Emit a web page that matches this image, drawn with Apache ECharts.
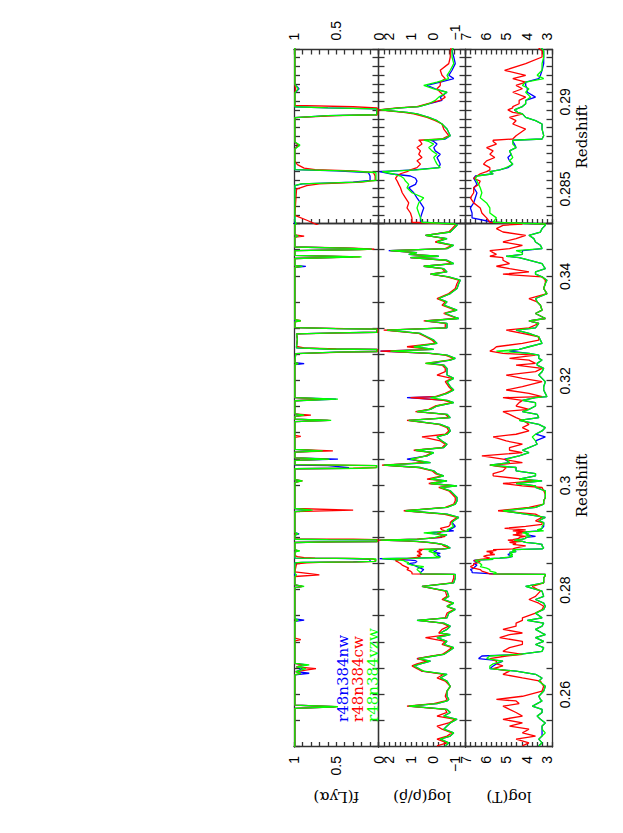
<!DOCTYPE html>
<html><head><meta charset="utf-8">
<script src="https://cdn.jsdelivr.net/npm/echarts@6.0.0/dist/echarts.min.js"></script>
<style>
html,body{margin:0;padding:0;width:623px;height:833px;overflow:hidden;background:#fff;}
#rot{position:absolute;left:0;top:0;width:833px;height:623px;transform-origin:0 0;transform:translate(0,833px) rotate(-90deg);}
#chart{width:833px;height:623px;}
</style></head><body>
<div id="rot"><div id="chart"></div></div>
<script>
const seriesNames = ['r48n384nw', 'r48n384cw', 'r48n384vzw'];
const seriesColors = ['#0000ff', '#ff0000', '#00ff00'];
const bigZLabels = [0.26, 0.28, 0.3, 0.32, 0.34];
const zoomZLabels = [0.285, 0.29];
const fLabels = [0, 0.5, 1];
const rhoLabels = [-1, 0, 1, 2];
const tLabels = [3, 4, 5, 6, 7];

// Lyman-alpha flux
const fZ = [0.2500,0.2574,0.2577,0.2580,0.2638,0.2641,0.2644,0.2650,0.2653,0.2657,
0.2660,0.2703,0.27055,0.2708,0.2740,0.27425,0.2745,0.2805,0.28072,0.2810,
0.2826,0.2829,0.2832,0.2835,0.2850,0.2852,0.2853,0.2854,0.2855,0.28575,
0.28595,0.28605,0.28612,0.2862,0.2864,0.2866,0.2873,0.28752,0.2877,0.2891,
0.28921,0.28926,0.2896,0.28966,0.28972,0.2898,0.2905,0.29075,0.2910,0.2950,
0.29529,0.2956,0.3006,0.30088,0.3011,0.3032,0.3033,0.3034,0.3038,0.3039,
0.3040,0.3048,0.30505,0.3053,0.3064,0.30662,0.3069,0.3092,0.3094,0.3096,
0.3122,0.31246,0.3127,0.3132,0.31345,0.3137,0.3162,0.3165,0.3168,0.3231,
0.3233,0.3235,0.3252,0.3255,0.3256,0.3260,0.3261,0.3263,0.3266,0.3280,
0.3290,0.3292,0.3293,0.3299,0.3300,0.3302,0.3313,0.3315,0.3317,0.3417,
0.3419,0.3421,0.3434,0.3437,0.3440,0.3449,0.3451,0.3452,0.3454,0.3456,
0.3475,0.3477,0.3479,0.3500];
const fBlue = [0.99,0.99,0.52,0.99,0.99,0.82,0.97,0.90,0.97,0.85,
0.99,0.99,0.99,0.99,0.99,0.88,0.99,0.99,0.90,0.99,
0.99,0.99,0.99,0.99,0.99,0.99,0.90,0.30,0.10,0.10,
0.12,0.50,0.99,0.99,0.99,0.99,0.99,0.95,0.99,0.99,
0.60,0.02,0.02,0.60,0.99,0.99,0.99,0.94,0.99,0.99,
0.80,0.99,0.99,0.92,0.99,0.99,0.40,0.35,0.60,0.99,
0.99,0.99,0.48,0.99,0.99,0.70,0.99,0.99,0.99,0.99,
0.99,0.60,0.99,0.99,0.90,0.99,0.99,0.50,0.99,0.99,
0.88,0.99,0.98,0.50,0.02,0.02,0.60,0.97,0.97,0.96,
0.97,0.50,0.02,0.02,0.50,0.99,0.99,0.99,0.99,0.99,
0.86,0.99,0.99,0.30,0.99,0.99,0.30,0.08,0.40,0.99,
0.99,0.95,0.99,0.99];
const fRed = [0.99,0.99,0.50,0.99,0.99,0.92,0.98,0.74,0.97,0.90,
0.99,0.99,0.92,0.99,0.99,0.97,0.99,0.99,0.90,0.99,
0.99,0.70,0.84,0.99,0.97,0.85,0.70,0.20,0.04,0.04,
0.06,0.30,0.75,0.88,0.96,0.99,0.99,0.95,0.99,0.99,
0.50,0.01,0.01,0.02,0.30,0.99,0.99,0.98,0.99,0.99,
0.30,0.99,0.99,0.90,0.99,0.99,0.30,0.03,0.02,0.50,
0.99,0.99,0.60,0.99,0.99,0.54,0.99,0.99,0.92,0.99,
0.99,0.58,0.99,0.99,0.80,0.99,0.99,0.62,0.99,0.99,
0.95,0.99,0.98,0.40,0.01,0.01,0.50,0.88,0.97,0.96,
0.97,0.40,0.01,0.01,0.40,0.99,0.99,0.92,0.99,0.99,
0.92,0.99,0.99,0.22,0.99,0.99,0.20,0.05,0.30,0.99,
0.99,0.88,0.99,0.99];
const fGreen = [0.99,0.99,0.48,0.99,0.99,0.92,0.98,0.86,0.97,0.82,
0.99,0.99,0.99,0.99,0.99,0.95,0.99,0.99,0.88,0.99,
0.99,0.97,0.99,0.99,0.99,0.99,0.92,0.25,0.03,0.03,
0.03,0.40,0.99,0.99,0.99,0.99,0.99,0.93,0.99,0.99,
0.60,0.02,0.02,0.60,0.99,0.99,0.99,0.95,0.99,0.99,
0.78,0.99,0.99,0.90,0.99,0.99,0.20,0.02,0.02,0.40,
0.99,0.99,0.58,0.99,0.99,0.66,0.99,0.99,0.99,0.99,
0.99,0.56,0.99,0.99,0.88,0.99,0.99,0.48,0.99,0.99,
0.95,0.99,0.98,0.50,0.02,0.02,0.60,0.97,0.97,0.96,
0.97,0.50,0.02,0.02,0.50,0.99,0.99,0.92,0.99,0.99,
0.90,0.99,0.99,0.20,0.99,0.99,0.20,0.08,0.40,0.99,
0.99,0.95,0.99,0.99];

// gas density and temperature along the sightline
const gasZ = [0.2502,0.2508,0.2515,0.2521,0.2527,0.2534,0.2540,0.2546,0.2553,0.2559,
0.2566,0.2572,0.2578,0.2583,0.2588,0.2591,0.2597,0.2607,0.2616,0.2626,
0.2632,0.2639,0.2645,0.2650,0.2655,0.2659,0.2664,0.2669,0.2674,0.2677,
0.2683,0.2690,0.2696,0.2702,0.2709,0.2715,0.2718,0.2725,0.2731,0.2737,
0.2742,0.2747,0.2756,0.2763,0.2769,0.2775,0.2782,0.2788,0.2798,0.2807,
0.2814,0.2823,0.2828,
0.2830,0.2831,0.28335,0.28363,0.28392,0.28421,0.2845,0.28479,0.28508,0.28527,
0.28546,0.28562,0.28575,0.28588,0.286,0.2861,0.28623,0.28643,0.28662,0.28681,
0.287,0.28719,0.28738,0.28758,0.28773,0.2878,0.28787,0.28806,0.28844,0.28873,
0.28892,0.28911,0.28931,0.2894,0.28954,0.28966,0.28973,0.28989,0.29008,0.29027,
0.29055,0.29075,0.29094,0.29113,0.29133,0.29152,0.29181,0.29219,0.29257,0.29292,
0.29326,0.29389,0.29453,0.29517,0.2958,0.29644,0.29707,0.29771,0.29835,0.29898,
0.29962,0.29994,0.30038,0.30089,0.30121,0.30185,0.30229,0.3028,0.30344,0.30388,
0.30439,0.30503,0.30566,0.3063,0.30674,0.30725,0.30789,0.30852,0.30929,0.3098,
0.31043,0.31107,0.3117,0.31247,0.31298,0.31361,0.31412,0.31457,0.3152,0.31584,
0.31628,0.31679,
0.31698,0.31762,0.31826,0.31889,0.31985,0.32048,0.32112,0.32176,0.32239,0.32303,
0.32335,0.32398,0.3243,0.32494,0.32525,0.3257,0.32602,0.32653,0.32716,0.3278,
0.32844,0.32907,0.32971,0.33015,0.33098,0.33149,0.33193,0.33289,0.33352,0.33448,
0.33511,0.33575,0.3367,0.33766,0.33861,0.33925,0.33989,0.3404,0.34084,0.34147,
0.34192,0.34243,0.34307,0.34357,0.34383,0.34421,0.34453,0.34491,0.34529,0.34593,
0.34656,0.3472,0.34784,0.34847,0.34911,0.34975,0.35];

const rhoBlue = [-0.57,-0.73,-0.34,-0.80,-0.96,-0.50,-0.65,-0.80,-1.11,-0.50,
-0.80,-0.65,1.11,-0.19,-0.65,-0.73,-0.65,-0.65,-0.80,-0.65,
-0.34,-0.65,0.50,0.65,0.88,0.57,0.11,0.73,-0.04,-0.50,
-0.73,-0.96,-0.50,-0.65,-0.19,-0.80,-0.34,-0.65,-0.80,-0.50,
0.73,-0.65,-0.73,-1.03,-0.65,-0.96,-0.50,-0.73,-0.65,0.50,
-0.96,-1.03,-1.03,
-1.03,0.57,0.57,0.50,0.42,0.57,0.73,0.88,1.11,0.80,
0.73,0.80,1.03,1.95,2.45,0.88,-0.27,-0.34,-0.27,-0.19,
-0.34,-0.11,-0.04,-0.19,-0.04,0.11,-0.57,-0.80,-0.65,-0.42,
-0.19,0.19,0.73,1.19,2.45,1.49,0.65,0.19,-0.42,-0.34,
-0.65,-0.11,0.27,-0.34,-0.96,-0.73,-0.88,-1.03,-0.96,-0.88,
-0.96,-1.19,-0.65,1.26,-0.65,-1.03,-1.11,-1.11,-0.96,-0.80,
-0.34,-1.11,0.11,-0.65,0.11,-0.50,-0.19,-0.04,0.57,2.26,
0.11,1.19,0.27,-0.04,0.80,-0.50,-0.65,-0.42,-0.19,-0.65,
-0.80,-0.73,-0.34,1.11,-0.80,-0.65,0.73,0.11,-0.19,-0.96,
-0.65,1.19,
-0.19,-0.65,-0.96,-0.80,-0.65,-0.96,-0.65,-0.65,-0.65,-0.50,
0.11,-0.80,-1.03,-0.65,0.11,2.41,-0.04,0.88,-0.19,-0.04,
0.27,0.57,2.11,-0.65,-0.65,0.34,-1.19,-0.57,-1.11,-0.50,
-0.65,-0.27,-0.80,-1.11,-1.19,-1.26,-0.73,0.11,-0.65,-0.50,
0.42,-0.96,-0.65,1.03,-0.27,1.11,0.73,2.03,-0.65,-0.96,
-0.19,-0.65,0.34,-0.80,-0.96,-1.11,-1.11];
const rhoRed = [-0.19,-0.65,-0.19,-0.65,-0.88,-0.42,-0.19,-0.73,-1.03,-0.19,
-0.65,-0.57,1.19,-0.04,-0.57,-0.65,-0.57,-0.65,-0.80,-0.57,
-0.19,-0.50,0.50,0.73,0.96,0.73,0.27,0.73,0.04,-0.42,
-0.65,-0.88,-0.42,-0.57,0.34,-0.73,-0.27,-0.42,-0.73,-0.42,
0.65,-0.57,-0.65,-0.96,-0.65,-0.88,-0.42,-0.65,-0.57,0.50,
-0.88,-0.96,-0.96,
-0.96,0.96,0.96,1.03,1.19,1.11,1.26,1.41,1.49,1.57,
1.64,1.72,1.64,1.49,1.19,1.03,0.73,0.57,0.73,0.50,
0.65,0.57,0.73,0.50,0.57,0.65,-0.42,-0.73,-0.50,-0.42,
-0.11,0.27,0.88,1.34,2.50,1.64,0.73,0.27,-0.34,-0.57,
-0.34,-0.19,-0.34,-0.34,-0.57,-0.42,-0.34,-0.73,-0.80,-0.80,
-0.88,-1.11,-0.50,1.34,-0.57,-0.96,-1.03,-1.03,-0.88,-0.73,
-0.27,-1.03,0.19,-0.57,0.27,-0.42,-0.11,0.04,0.65,2.34,
0.42,0.96,0.34,0.04,0.88,-0.42,-0.57,-0.34,0.50,-0.57,
-0.73,-0.65,-0.27,1.19,-0.73,-0.57,0.80,0.19,-0.11,-0.88,
-0.50,1.03,
-0.11,-0.57,-0.88,-0.73,-0.57,-0.88,-0.19,-0.57,-0.57,-0.42,
0.34,-0.73,-0.96,-0.57,0.19,2.41,0.04,1.19,-0.11,0.04,
0.34,0.65,2.26,-0.57,-0.57,0.42,-1.11,-0.50,-1.03,-0.42,
-0.57,-0.19,-0.73,-1.03,-1.11,-1.19,-0.65,0.11,-0.57,-0.42,
0.42,-0.88,-0.57,1.03,-0.19,1.03,0.80,1.95,-0.57,-0.88,
-0.11,-0.57,0.34,-0.73,-0.88,-1.03,-1.03];
const rhoGreen = [-0.57,-0.73,-0.34,-0.80,-0.96,-0.50,-0.65,-0.80,-1.11,-0.50,
-0.80,-0.65,1.11,-0.19,-0.65,-0.73,-0.65,-0.65,-0.80,-0.65,
-0.34,-0.65,0.42,0.65,0.88,0.57,0.11,0.65,-0.04,-0.50,
-0.73,-0.96,-0.50,-0.65,-0.19,-0.80,-0.34,-0.65,-0.80,-0.50,
0.73,-0.65,-0.73,-1.03,-0.65,-0.96,-0.50,-0.73,-0.65,0.50,
-0.96,-1.03,-1.03,
-1.03,0.50,0.57,0.65,0.73,0.65,0.42,0.96,1.19,1.11,
1.26,1.34,1.49,1.87,2.33,0.73,-0.34,-0.19,-0.11,-0.04,
-0.19,0.04,0.19,-0.04,0.19,0.42,-0.50,-0.80,-0.65,-0.42,
-0.19,0.19,0.73,1.19,2.41,1.49,0.65,0.19,-0.11,-0.27,
-0.65,-0.04,0.42,-0.19,-0.73,-0.65,-0.80,-0.96,-0.88,-0.88,
-0.96,-1.19,-0.65,1.26,-0.65,-1.03,-1.11,-1.11,-0.96,-0.80,
-0.34,-1.11,0.11,-0.65,0.11,-0.50,-0.19,-0.04,0.57,2.26,
0.11,1.03,0.27,-0.04,0.80,-0.50,-0.65,-0.42,-0.19,-0.65,
-0.80,-0.73,-0.34,1.11,-0.80,-0.65,0.73,0.11,-0.19,-0.96,
-0.65,0.11,
-0.19,-0.65,-0.96,-0.80,-0.65,-0.96,-0.65,-0.65,-0.65,-0.50,
0.34,-0.80,-1.03,-0.65,0.11,1.95,-0.04,0.88,-0.19,-0.04,
0.27,0.57,2.11,-0.65,-0.65,0.34,-1.19,-0.57,-1.11,-0.50,
-0.65,-0.27,-0.80,-1.11,-1.19,-1.26,-0.73,0.11,-0.65,-0.50,
0.42,-0.96,-0.65,1.03,-0.27,1.11,0.73,1.95,-0.65,-0.96,
-0.19,-0.65,0.34,-0.80,-0.96,-1.11,-1.11];

const tBlue = [3.42,3.26,3.42,3.26,3.26,3.26,3.26,3.10,3.34,3.50,
3.26,3.26,3.74,3.50,3.26,3.34,3.42,3.18,3.10,3.42,
3.26,3.58,4.53,5.81,5.65,5.49,5.17,6.36,6.20,4.38,
3.26,3.18,3.58,3.18,3.58,3.10,3.26,3.58,3.26,3.18,
3.98,3.26,3.58,3.18,3.10,3.18,3.58,3.18,3.26,4.06,
3.18,3.18,3.10,
3.10,5.65,6.68,6.68,6.76,6.60,6.52,6.44,6.60,6.44,
6.52,6.60,6.52,5.65,5.81,5.33,4.93,4.69,4.85,4.93,
4.77,4.85,4.53,4.61,4.69,4.69,3.26,3.18,3.26,3.26,
3.58,4.06,4.22,4.45,4.61,4.38,4.22,4.06,4.06,3.58,
3.98,3.98,4.06,4.06,3.42,3.34,3.26,3.18,3.18,3.18,
3.42,3.10,4.06,5.17,3.58,3.18,3.18,3.10,3.10,3.10,
3.58,3.58,4.53,3.26,4.38,3.58,3.58,4.53,4.53,5.81,
4.85,5.09,4.38,3.90,4.22,3.90,3.50,3.58,3.10,3.58,
3.26,3.10,3.42,4.38,3.42,3.50,4.22,3.90,3.58,3.58,
4.22,3.58,
3.02,3.10,3.18,3.18,3.10,3.26,3.42,3.26,3.18,3.50,
3.50,3.26,3.42,3.42,3.90,4.85,4.38,3.90,3.26,3.34,
3.42,3.90,4.53,3.58,3.42,3.90,3.10,3.58,3.26,3.34,
3.50,3.58,3.02,3.18,3.10,3.02,3.26,3.58,3.58,3.10,
3.18,3.26,3.90,4.38,5.01,4.22,4.22,4.22,3.26,3.34,
3.58,3.66,3.90,3.34,3.26,3.10,3.10];
const tRed = [4.22,3.90,4.53,3.58,4.22,3.90,4.85,4.22,5.17,4.22,
4.53,4.85,5.17,4.38,4.53,5.49,4.22,3.26,3.18,3.34,
4.22,5.17,4.85,5.65,5.17,5.49,5.49,5.81,5.01,4.22,
5.17,4.85,4.22,4.22,5.33,4.85,4.22,5.17,4.53,4.53,
4.22,4.22,3.58,3.26,3.18,3.42,3.90,3.58,3.34,3.74,
3.18,3.18,3.10,
3.10,5.81,5.97,6.20,6.28,6.60,6.76,6.60,6.60,6.36,
6.28,6.60,6.44,6.28,5.97,5.81,5.81,6.12,5.97,5.57,
5.81,5.65,5.97,5.49,5.65,5.65,4.69,4.53,4.06,4.69,
4.53,4.85,4.22,4.69,4.93,4.69,4.69,4.38,4.38,4.06,
4.69,4.22,4.53,4.06,4.69,4.06,5.09,4.06,3.26,3.26,
3.58,3.26,3.58,5.41,3.90,3.18,3.18,3.10,3.10,3.18,
3.26,4.22,5.17,3.58,4.22,5.65,5.65,5.17,5.01,5.81,
4.22,5.17,6.20,4.22,4.85,4.85,4.22,5.01,5.65,4.53,
3.90,4.22,3.90,4.22,4.53,4.85,5.17,3.90,4.53,4.38,
4.22,5.17,
3.26,3.90,5.01,4.22,3.26,4.22,5.01,3.58,3.26,4.53,
3.58,3.90,4.85,3.58,5.17,5.81,5.65,5.49,4.22,3.42,
3.42,4.22,5.01,3.90,3.42,3.90,3.10,3.58,3.26,3.34,
3.50,3.90,3.02,3.18,3.10,3.10,3.26,5.17,3.90,4.85,
5.49,4.85,5.17,5.17,5.81,5.49,5.65,5.81,4.85,4.22,
5.17,4.53,4.06,5.17,5.49,5.17,4.22];
const tGreen = [3.42,3.26,3.42,3.26,3.10,3.26,3.26,3.10,3.34,3.50,
3.26,3.26,3.74,3.50,3.26,3.34,3.42,3.18,3.10,3.42,
3.26,3.58,4.53,5.81,5.81,5.65,5.17,5.97,5.81,4.38,
3.26,3.18,3.58,3.18,3.58,3.10,3.26,3.58,3.26,3.18,
3.98,3.26,3.58,3.18,3.10,3.18,3.58,3.18,3.26,4.06,
3.18,3.18,3.10,
3.10,5.65,5.49,5.81,5.81,5.97,6.28,6.20,6.28,6.36,
6.44,6.52,6.44,5.65,5.81,5.33,5.01,4.69,4.85,4.69,
4.77,4.85,4.53,4.69,4.69,4.69,3.26,3.18,3.26,3.26,
3.58,4.06,4.22,4.45,4.61,4.38,4.22,4.06,4.06,3.82,
4.06,3.90,4.22,4.06,3.18,3.50,3.26,3.26,3.18,3.18,
3.42,3.10,4.06,5.17,3.58,3.18,3.18,3.10,3.10,3.10,
3.58,3.58,4.53,3.26,4.38,3.58,3.58,4.53,4.53,5.81,
4.85,5.01,4.38,3.90,4.22,3.90,3.50,3.58,3.74,3.58,
3.26,3.10,3.42,4.38,3.42,3.50,4.22,3.90,3.58,3.58,
4.22,3.58,
3.02,3.10,3.18,3.18,3.10,3.26,3.42,3.26,3.18,3.50,
3.50,3.26,3.42,3.42,3.90,5.49,4.38,3.90,3.26,3.34,
3.42,3.90,4.53,3.58,3.42,3.90,3.10,3.58,3.26,3.34,
3.50,3.58,3.02,3.18,3.10,3.02,3.26,3.58,3.58,3.10,
3.18,3.26,3.90,4.38,5.01,4.22,4.22,4.53,3.26,3.34,
3.58,3.66,3.90,3.34,3.26,3.10,3.10];

function steps(a, b, step) {
  const out = []; const n = Math.round((b - a) / step);
  for (let i = 0; i <= n; i++) out.push(+(a + i * step).toFixed(6));
  return out;
}
function fmtNum(v) { return String(+(+v).toFixed(4)).replace('-', '\u2212'); }

const frameColor = '#333';
const tickFont = 'Liberation Sans';
const titleFont = 'DejaVu Serif';

const rows = [
  { top: 294, height: 84.5, min: 0, max: 1, labels: fLabels, ticks: steps(0, 1, 0.1), name: 'f(Ly\u03b1)', z: fZ, vals: [fBlue, fRed, fGreen] },
  { top: 378.5, height: 87, min: -1.5, max: 2.5, labels: rhoLabels, ticks: steps(-1.5, 2.5, 0.25), name: 'log(\u03c1/\u03c1\u0304)', z: gasZ, vals: [rhoBlue, rhoRed, rhoGreen] },
  { top: 465.5, height: 87, min: 2.75, max: 7, labels: tLabels, ticks: steps(2.75, 7, 0.25), name: 'log(T)', z: gasZ, vals: [tBlue, tRed, tGreen] }
];
const panels = [
  { left: 86, width: 523, min: 0.25, max: 0.35, labels: bigZLabels, ticks: steps(0.25, 0.35, 0.005) },
  { left: 609, width: 174.5, min: 0.283, max: 0.293, labels: zoomZLabels, ticks: steps(0.283, 0.293, 0.0005) }
];

const grid = [], xAxis = [], yAxis = [], series = [];
const lineStyle = { color: frameColor, width: 1.3 };
panels.forEach((p, pi) => {
  rows.forEach((r, ri) => {
    const g = grid.length;
    grid.push({ left: p.left, top: r.top, width: p.width, height: r.height });
    const isBottom = ri === 2;
    xAxis.push({
      type: 'value', gridIndex: g, min: p.min, max: p.max, position: 'bottom',
      axisLine: { show: true, onZero: false, lineStyle },
      axisTick: { show: true, inside: true, length: 6, customValues: p.ticks, lineStyle },
      axisLabel: { show: isBottom, customValues: p.labels, formatter: fmtNum, margin: 5, fontSize: 14, color: '#000', fontFamily: tickFont },
      splitLine: { show: false },
      name: isBottom ? 'Redshift' : '', nameLocation: 'middle', nameGap: 22,
      nameTextStyle: { fontSize: 15, color: '#000', fontFamily: titleFont }
    });
    xAxis.push({
      type: 'value', gridIndex: g, min: p.min, max: p.max, position: 'top',
      axisLine: { show: true, onZero: false, lineStyle },
      axisTick: { show: true, inside: true, length: 6, customValues: p.ticks, lineStyle },
      axisLabel: { show: false }, splitLine: { show: false }
    });
    yAxis.push({
      type: 'value', gridIndex: g, min: r.min, max: r.max, position: 'left',
      axisLine: { show: true, onZero: false, lineStyle },
      axisTick: { show: true, inside: true, length: 5, customValues: r.ticks, lineStyle },
      axisLabel: { show: pi === 0, customValues: r.labels, formatter: fmtNum, margin: 9, fontSize: 14, color: '#000', fontFamily: tickFont },
      splitLine: { show: false },
      name: pi === 0 ? r.name : '', nameLocation: 'middle', nameRotate: 90, nameGap: 42,
      nameTextStyle: { fontSize: 15, color: '#000', fontFamily: titleFont }
    });
    yAxis.push({
      type: 'value', gridIndex: g, min: r.min, max: r.max, position: 'right',
      axisLine: { show: true, onZero: false, lineStyle },
      axisTick: { show: pi === 1, inside: true, length: 5, customValues: r.ticks, lineStyle },
      axisLabel: { show: pi === 1, customValues: r.labels, formatter: fmtNum, margin: 9, fontSize: 14, color: '#000', fontFamily: tickFont },
      splitLine: { show: false }
    });
    r.vals.forEach((vals, si) => {
      series.push({
        type: 'line', name: seriesNames[si], xAxisIndex: 2 * g, yAxisIndex: 2 * g,
        data: r.z.map((z, i) => [z, vals[i]]),
        showSymbol: false, symbol: 'none', clip: true, z: 2 + si,
        lineStyle: { width: 1.3, color: seriesColors[si] },
        itemStyle: { color: seriesColors[si] }
      });
    });
  });
});

const chart = echarts.init(document.getElementById('chart'), null, { renderer: 'svg', width: 833, height: 623 });
chart.setOption({
  animation: false,
  backgroundColor: '#fff',
  grid, xAxis, yAxis, series,
  legend: {
    orient: 'vertical', left: 106, top: 335, icon: 'none', itemWidth: 0, itemHeight: 13.5, itemGap: 0,
    selectedMode: false, padding: 0,
    data: seriesNames.map((n, i) => ({ name: n, textStyle: { color: seriesColors[i] } })),
    textStyle: { fontFamily: titleFont, fontSize: 15, lineHeight: 13.5 }
  }
});
</script>
</body></html>
